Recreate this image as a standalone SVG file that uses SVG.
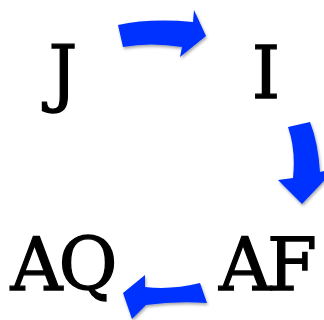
<svg xmlns="http://www.w3.org/2000/svg" width="324" height="320" viewBox="0 0 324 320">
<style>
.lbl{font-family:"DejaVu Serif","Liberation Serif",serif;font-size:72px;fill:#000;stroke:#000;stroke-width:1.3;text-anchor:middle}
.two{letter-spacing:-4px}
.arr{fill:#0433ff;filter:url(#sh)}
</style>
<defs>
<filter id="sh" x="-20%" y="-20%" width="150%" height="150%">
<feDropShadow dx="1" dy="2" stdDeviation="1.5" flood-color="#000" flood-opacity="0.35"/>
</filter>
</defs>
<rect width="324" height="320" fill="#fff"/>
<g id="connectors">
<path class="arr" d="M118,25 Q150,18 193,22 L194,10 L206,36 L180,57 L182,47 Q150,42 123,47 Z"/>
<path class="arr" d="M288,127 L310,122 Q318,142 320,172 L336,168 L302,204 L278,180 L293,178 Q296,150 288,127 Z"/>
<path class="arr" d="M200,283 L207,303 Q175,301 146,305 L132,319 L123,293 L145,275 L145,287 Q172,290 200,283 Z"/>
</g>
<g id="J"><text class="lbl" x="63" y="98">J</text></g>
<g id="I"><text class="lbl" x="266" y="98">I</text></g>
<g id="AQ"><text class="lbl two" x="62" y="290">AQ</text></g>
<g id="AF"><text class="lbl two" x="266" y="290">AF</text></g>
</svg>
